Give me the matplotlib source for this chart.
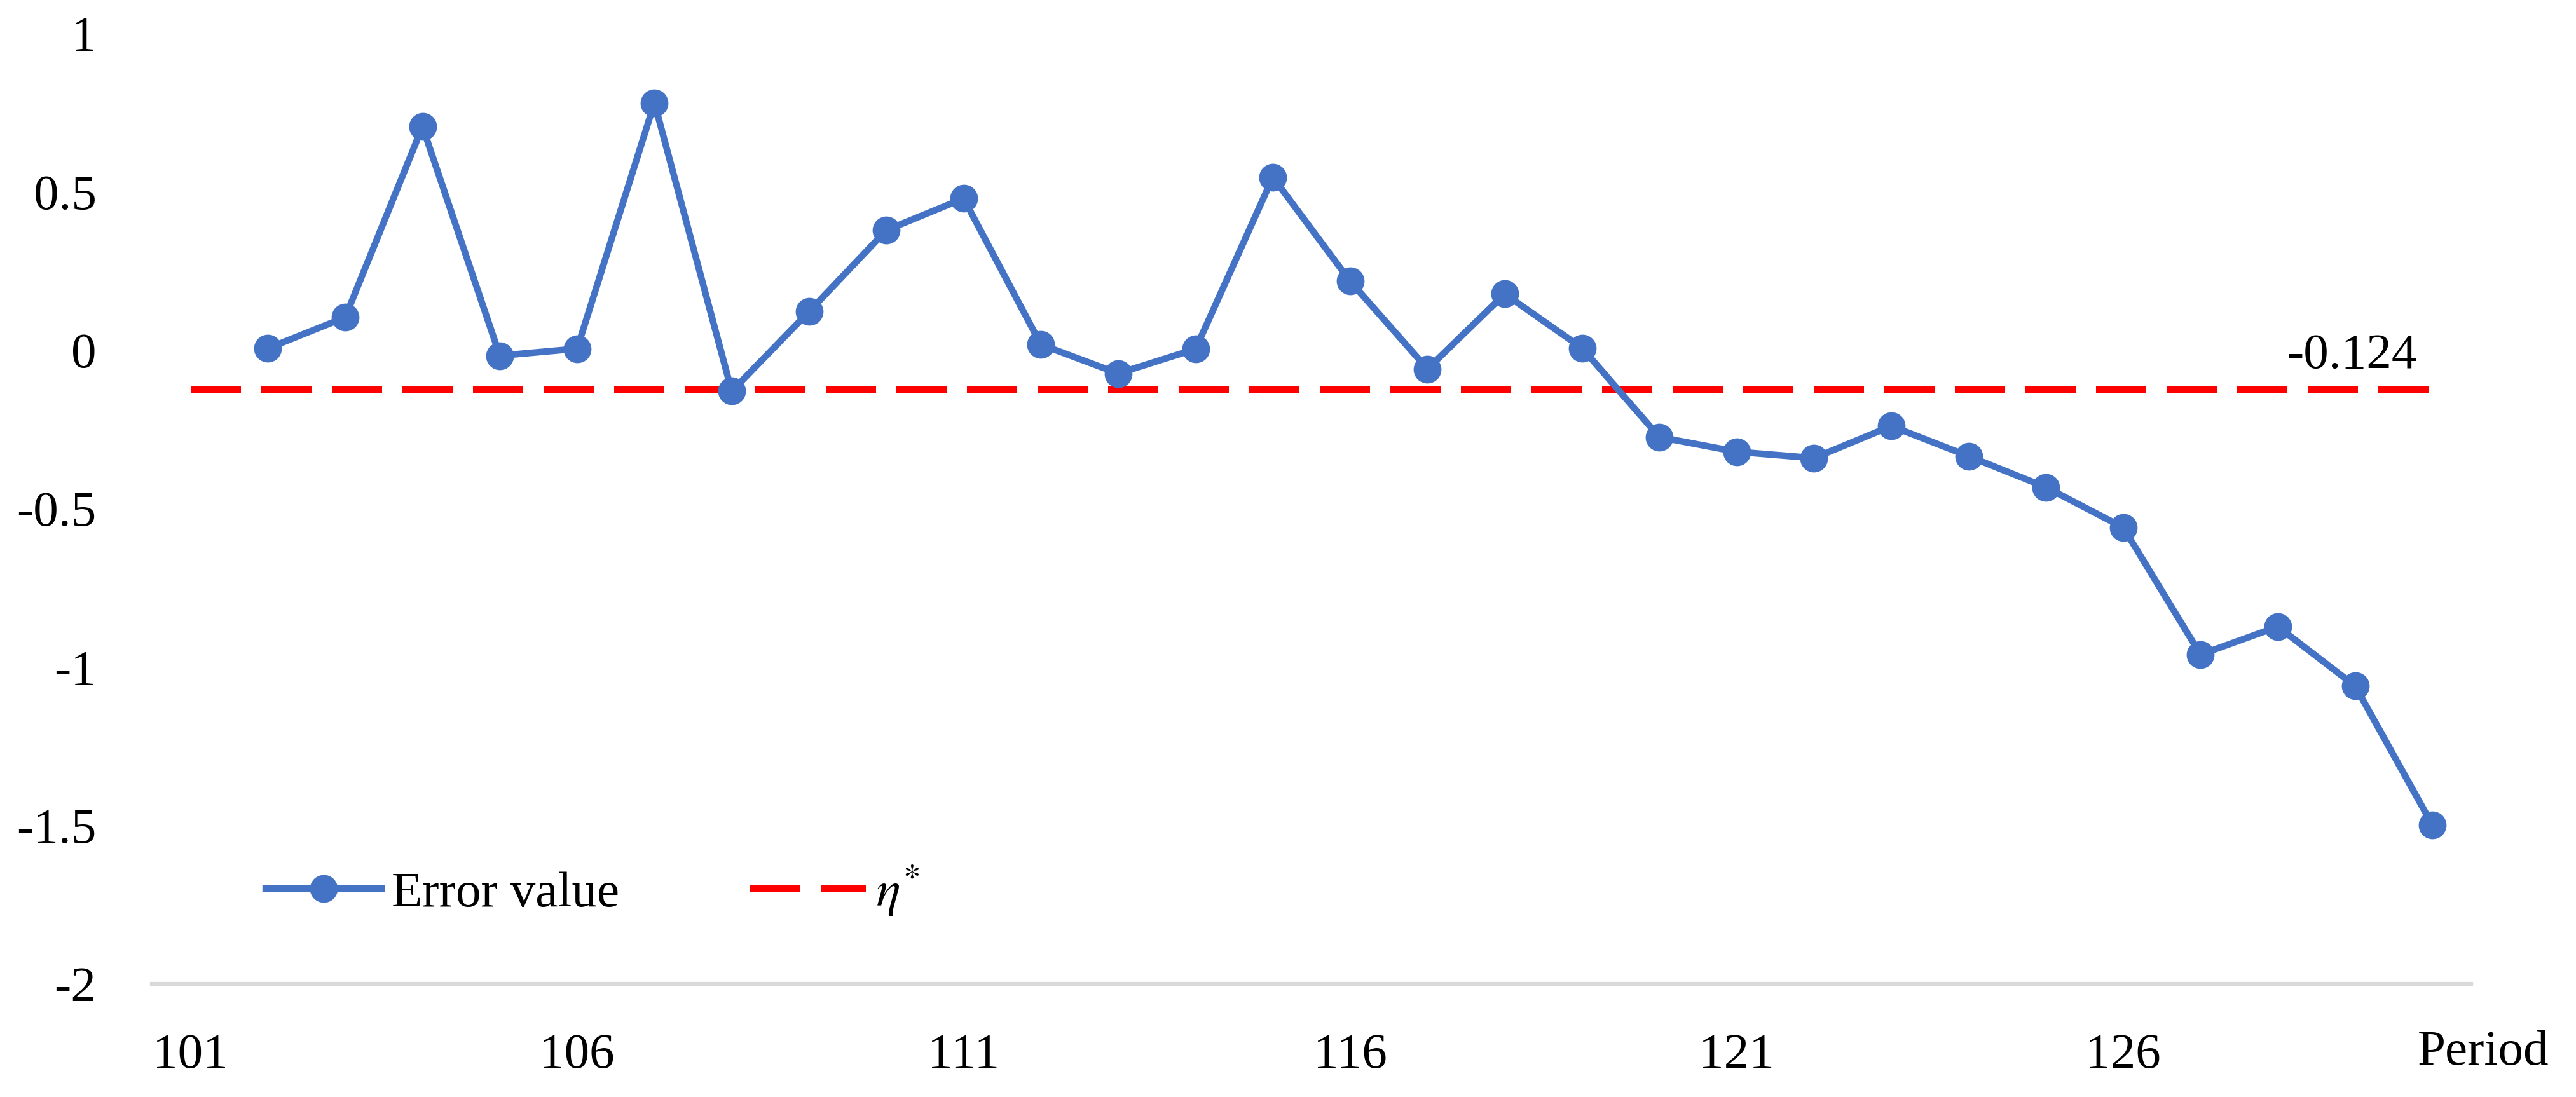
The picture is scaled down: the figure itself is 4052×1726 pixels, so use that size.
import matplotlib
matplotlib.use("Agg")
import matplotlib.pyplot as plt

# Data
periods = list(range(102, 131))
error_values = [
    0.005, 0.103, 0.705, -0.018, 0.004, 0.78, -0.13, 0.121, 0.378, 0.478,
    0.017, -0.074, 0.003, 0.545, 0.217, -0.06, 0.177, 0.006, -0.275, -0.321,
    -0.341, -0.240, -0.335, -0.433, -0.560, -0.961, -0.873, -1.060, -1.499,
]
eta_star = -0.124
eta_span = [101, 130]
x_ticks = [101, 106, 111, 116, 121, 126]
y_ticks = [1, 0.5, 0, -0.5, -1, -1.5, -2]
y_tick_labels = ["1", "0.5", "0", "-0.5", "-1", "-1.5", "-2"]

BLUE = "#4472C4"
RED = "#FF0000"

plt.rcParams["font.family"] = ["Liberation Serif", "DejaVu Serif"]
plt.rcParams["font.size"] = 19
plt.rcParams["mathtext.fontset"] = "stix"

W, H, DPI = 4052, 1726, 300
fig = plt.figure(figsize=(W / DPI, H / DPI), dpi=DPI)
ax = fig.add_axes([239 / W, 1 - 1548 / H, (3887 - 239) / W, (1548 - 52) / H])

ax.plot(periods, error_values, color=BLUE, lw=2.5, marker="o", ms=9.5,
        label="Error value", zorder=3)
ax.plot(eta_span, [eta_star, eta_star], color=RED, lw=2.4,
        dashes=(7.9, 3.2), label=r"$\eta^{*}$", zorder=2)

ax.annotate(f"{eta_star:g}", xy=(eta_span[1], eta_star), xytext=(-6, 4),
            textcoords="offset points", ha="right", va="bottom", fontsize=19)

ax.set_xlim(100.5, 130.5)
ax.set_ylim(-2, 1)
ax.set_xticks(x_ticks)
ax.set_xticklabels([str(t) for t in x_ticks])
ax.set_yticks(y_ticks)
ax.set_yticklabels(y_tick_labels)
ax.tick_params(axis="both", length=0, labelsize=19)
ax.tick_params(axis="y", pad=21)
ax.tick_params(axis="x", pad=18.5)

for side in ["top", "right", "left"]:
    ax.spines[side].set_visible(False)
ax.spines["bottom"].set_color("#D9D9D9")
ax.spines["bottom"].set_linewidth(1.5)

fig.text(3906 / W, 1 - 1656 / H, "Period", ha="center", va="center", fontsize=19)

leg = ax.legend(loc="center left", bbox_to_anchor=(418 / W, 1 - 1401 / H),
                bbox_transform=fig.transFigure, ncol=2, frameon=False,
                handlelength=2.3, handletextpad=0.2, columnspacing=2.6,
                borderpad=0, borderaxespad=0, fontsize=19)

fig.savefig("out.png", dpi=DPI)
